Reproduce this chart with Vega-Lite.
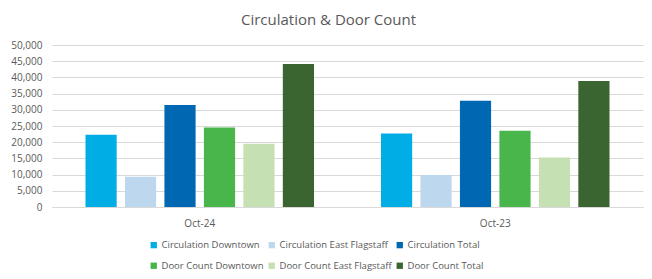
{
  "$schema": "https://vega.github.io/schema/vega-lite/v6.json",
  "width": 591,
  "height": 162,
  "autosize": {"type": "none"},
  "padding": {"left": 52, "top": 45, "right": 9, "bottom": 72},
  "background": "white",
  "title": {
    "text": "Circulation & Door Count",
    "fontSize": 15,
    "font": "Open Sans",
    "fontWeight": "normal",
    "color": "#595959",
    "offset": 12,
    "dx": -19
  },
  "data": {
    "values": [
      {"month": "Oct-24", "series": "Circulation Downtown", "value": 22300},
      {"month": "Oct-24", "series": "Circulation East Flagstaff", "value": 9300},
      {"month": "Oct-24", "series": "Circulation Total", "value": 31500},
      {"month": "Oct-24", "series": "Door Count Downtown", "value": 24500},
      {"month": "Oct-24", "series": "Door Count East Flagstaff", "value": 19500},
      {"month": "Oct-24", "series": "Door Count Total", "value": 44100},
      {"month": "Oct-23", "series": "Circulation Downtown", "value": 22700},
      {"month": "Oct-23", "series": "Circulation East Flagstaff", "value": 9900},
      {"month": "Oct-23", "series": "Circulation Total", "value": 32800},
      {"month": "Oct-23", "series": "Door Count Downtown", "value": 23500},
      {"month": "Oct-23", "series": "Door Count East Flagstaff", "value": 15300},
      {"month": "Oct-23", "series": "Door Count Total", "value": 38900}
    ]
  },
  "mark": {"type": "bar"},
  "encoding": {
    "x": {
      "field": "month",
      "type": "nominal",
      "sort": ["Oct-24", "Oct-23"],
      "title": null,
      "scale": {"paddingInner": 0.2, "paddingOuter": 0.1},
      "axis": {
        "labelAngle": 0,
        "ticks": false,
        "domainColor": "#d9d9d9",
        "labelColor": "#595959",
        "labelFont": "Open Sans",
        "labelFontSize": 10,
        "labelPadding": 11
      }
    },
    "xOffset": {
      "field": "series",
      "type": "nominal",
      "sort": ["Circulation Downtown", "Circulation East Flagstaff", "Circulation Total", "Door Count Downtown", "Door Count East Flagstaff", "Door Count Total"],
      "scale": {"paddingInner": 0.21, "paddingOuter": 0.1}
    },
    "y": {
      "field": "value",
      "type": "quantitative",
      "title": null,
      "scale": {"domain": [0, 50000]},
      "axis": {
        "values": [0, 5000, 10000, 15000, 20000, 25000, 30000, 35000, 40000, 45000, 50000],
        "format": ",d",
        "domain": false,
        "ticks": false,
        "gridColor": "#d9d9d9",
        "labelColor": "#595959",
        "labelFont": "Open Sans",
        "labelFontSize": 10,
        "labelPadding": 10
      }
    },
    "color": {
      "field": "series",
      "type": "nominal",
      "title": null,
      "sort": ["Circulation Downtown", "Circulation East Flagstaff", "Circulation Total", "Door Count Downtown", "Door Count East Flagstaff", "Door Count Total"],
      "scale": {
        "domain": ["Circulation Downtown", "Circulation East Flagstaff", "Circulation Total", "Door Count Downtown", "Door Count East Flagstaff", "Door Count Total"],
        "range": ["#00ADE5", "#BDD7EE", "#0068B3", "#48B64A", "#C5E0B3", "#3A6530"]
      },
      "legend": {
        "orient": "none",
        "legendX": 97,
        "legendY": 195,
        "direction": "horizontal",
        "columns": 3,
        "symbolType": "square",
        "symbolSize": 40,
        "symbolStrokeWidth": 0,
        "labelColor": "#595959",
        "labelFont": "Open Sans",
        "labelFontSize": 9.5,
        "labelOffset": 3,
        "columnPadding": 3,
        "rowPadding": 10
      }
    }
  },
  "config": {
    "view": {"stroke": null}
  }
}
